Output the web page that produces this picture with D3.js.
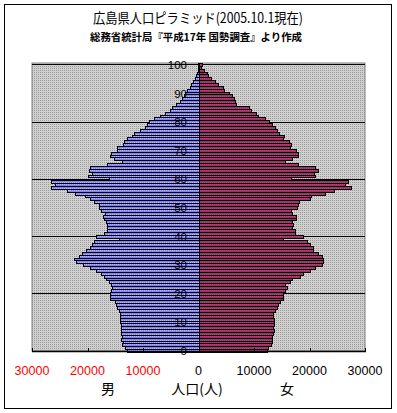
<!DOCTYPE html>
<html><head><meta charset="utf-8">
<script src="https://cdn.jsdelivr.net/npm/d3@7"></script>
<style>body{margin:0;background:#fff;}svg{display:block;}</style>
</head><body>
<script>
// ---- data ----
const ages = d3.range(0, 101); // 0..100
const male = [12900,13300,13700,13600,13900,13800,14000,13900,14000,13900,
14200,14100,14200,14200,14400,14600,14900,15000,15900,16000,
16000,15700,15600,15800,16100,16600,17000,17500,18400,19600,
20800,22100,22500,21600,21000,20300,19600,19200,18900,14400,
18400,17100,16500,16500,16500,16600,17000,17200,16800,17500,
18000,18000,18800,19600,20400,22200,23700,26600,25800,26600,
16200,20000,19200,19800,19500,16400,13800,15200,15900,15800,
14700,14600,13600,13400,12900,12000,11600,10500,9600,9300,
9000,8100,6900,6000,5200,4800,4000,3400,2950,2650,
2350,2050,1600,1300,960,720,420,250,150,100,120];
const female = [12300,12600,13100,13200,13300,13200,13500,13600,13500,13600,
13600,13600,13500,13500,13800,14200,14400,14700,15200,15200,
15300,15500,15900,15600,16500,16800,18200,18800,20000,21000,
22200,22400,22400,22200,21600,20700,20600,20000,19500,15200,
18800,17400,17300,16800,17100,16900,17600,17600,16800,16600,
17800,17950,18130,20000,20240,22830,24330,27470,26380,26870,
16750,21020,20840,21620,21020,17950,15540,16930,18010,18010,
17530,16500,16620,16380,15180,15420,14570,14210,13790,13200,
12710,11990,10780,10360,9400,9100,6750,6600,6380,5960,
5480,4640,4460,3550,2950,2170,1750,1450,960,540,720];
const xTickValues = [-30000,-20000,-10000,0,10000,20000,30000];
const xTickLabels = ["30000","20000","10000","0","10000","20000","30000"];
const yLabelAges = [0,10,20,30,40,50,60,70,80,90,100];
const gridAges = [20,40,60,80,100];
const title = "広島県人口ピラミッド(2005.10.1現在)";
const subtitle = "総務省統計局『平成17年 国勢調査』より作成";
const sexLabels = ["男","人口(人)","女"];

// ---- layout ----
const W = 397, H = 413;
const L = 32, R = 365, T = 63, B = 352;
const svg = d3.select("body").append("svg").attr("width", W).attr("height", H);
const defs = svg.append("defs");
function pat(id, base, dot){
  const p = defs.append("pattern").attr("id", id).attr("width", 2).attr("height", 2)
    .attr("patternUnits", "userSpaceOnUse");
  p.append("rect").attr("width", 2).attr("height", 2).attr("fill", base);
  p.append("rect").attr("width", 1).attr("height", 1).attr("fill", dot);
}
pat("bg", "#d0d0d0", "#9a9a9a");
pat("pm", "#8080ff", "#b8b8ff");
pat("pf", "#993366", "#c0407a");

svg.append("rect").attr("x", 4.5).attr("y", 4.5).attr("width", 387).attr("height", 404)
  .attr("fill", "#fff").attr("stroke", "#000");

const x = d3.scaleLinear().domain([-30000, 30000]).range([L, R]);
const y = d3.scaleBand().domain(ages).range([B, T]).padding(0);
const yc = a => y(a) + y.bandwidth() / 2;

// plot background
svg.append("rect").attr("x", L).attr("y", T).attr("width", R - L).attr("height", 351 - T)
  .attr("fill", "url(#bg)").attr("stroke", "#808080").attr("stroke-width", 1);

// gridlines
svg.selectAll(".grid").data(gridAges).enter().append("line")
  .attr("x1", L).attr("x2", R)
  .attr("y1", d => Math.round(yc(d)) + 0.5).attr("y2", d => Math.round(yc(d)) + 0.5)
  .attr("stroke", "#000").attr("stroke-width", 1);

// bars
const rows = ages.map((a, i) => ({age: a, m: male[i], f: female[i]}));
const ry = a => Math.round(y(a)) + 0.5;
const rh = a => Math.round(y(a) + y.bandwidth()) - Math.round(y(a));
svg.selectAll(".bm").data(rows).enter().append("rect")
  .attr("x", d => Math.round(x(-d.m)) + 0.5)
  .attr("y", d => ry(d.age))
  .attr("width", d => Math.round(x(0)) - Math.round(x(-d.m)))
  .attr("height", d => rh(d.age))
  .attr("fill", "url(#pm)").attr("stroke", "#000").attr("stroke-width", 1);
svg.selectAll(".bf").data(rows).enter().append("rect")
  .attr("x", Math.round(x(0)) + 0.5)
  .attr("y", d => ry(d.age))
  .attr("width", d => Math.round(x(d.f)) - Math.round(x(0)))
  .attr("height", d => rh(d.age))
  .attr("fill", "url(#pf)").attr("stroke", "#000").attr("stroke-width", 1);

// x axis
const axisG = svg.append("g").attr("transform", "translate(0,351)");
axisG.append("line").attr("x1", L).attr("x2", R + 1).attr("y1", 0.5).attr("y2", 0.5)
  .attr("stroke", "#000").attr("stroke-width", 1.5);
axisG.selectAll(".tk").data(xTickValues).enter().append("line")
  .attr("x1", d => Math.round(x(d)) + 0.5).attr("x2", d => Math.round(x(d)) + 0.5)
  .attr("y1", 0).attr("y2", -3).attr("stroke", "#000");
svg.selectAll(".xl").data(xTickValues).enter().append("text")
  .attr("x", d => x(d)).attr("y", 375)
  .attr("text-anchor", "middle")
  .attr("font-family", "'Liberation Sans', Arial, sans-serif").attr("font-size", 12.5)
  .attr("fill", d => d < 0 ? "#ff0000" : "#000")
  .text((d, i) => xTickLabels[i]);

// y labels
svg.selectAll(".yl").data(yLabelAges).enter().append("text")
  .attr("x", 187).attr("y", d => yc(d) + 4.5)
  .attr("text-anchor", "end")
  .attr("font-family", "'Liberation Sans', Arial, sans-serif").attr("font-size", 11.5)
  .attr("fill", "#000").text(d => d);

// titles
svg.append("text").attr("x", 198).attr("y", 23).attr("text-anchor", "middle")
  .attr("font-family", "'Noto Sans CJK JP', sans-serif").attr("font-size", 14)
  .attr("textLength", 210).attr("lengthAdjust", "spacingAndGlyphs").text(title);
svg.append("text").attr("x", 196).attr("y", 41).attr("text-anchor", "middle")
  .attr("font-family", "'Noto Sans CJK JP', sans-serif").attr("font-size", 10.5).attr("font-weight", "bold")
  .attr("textLength", 212).attr("lengthAdjust", "spacingAndGlyphs").text(subtitle);

// bottom labels
const sexX = [108, 197, 287];
svg.selectAll(".sx").data(sexLabels).enter().append("text")
  .attr("x", (d, i) => sexX[i]).attr("y", 394).attr("text-anchor", "middle")
  .attr("font-family", "'Noto Sans CJK JP', sans-serif").attr("font-size", 14)
  .text(d => d);
</script>
</body></html>
